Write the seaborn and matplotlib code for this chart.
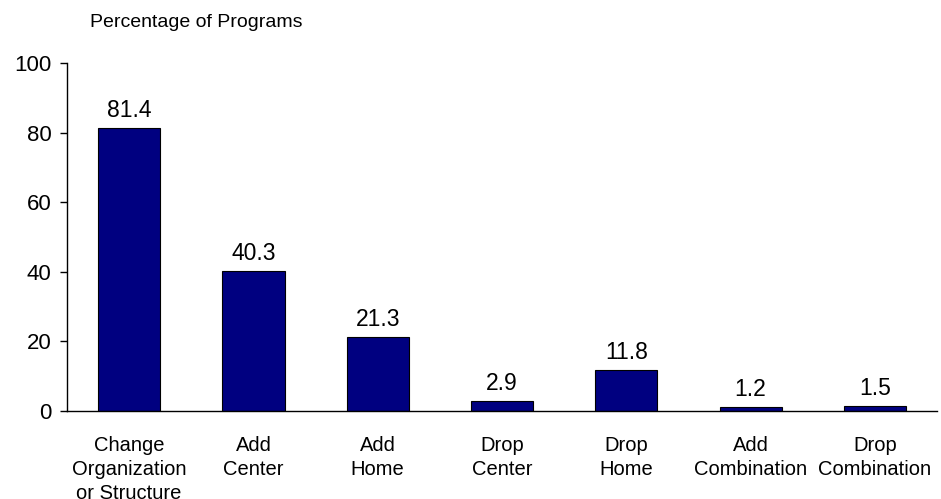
import numpy as np
import pandas as pd
import matplotlib
matplotlib.use("Agg")
import matplotlib.pyplot as plt
import seaborn as sns

categories = ["Change\nOrganization\nor Structure", "Add\nCenter", "Add\nHome",
              "Drop\nCenter", "Drop\nHome", "Add\nCombination", "Drop\nCombination"]
values = [81.4, 40.3, 21.3, 2.9, 11.8, 1.2, 1.5]
labels = ["81.4", "40.3", "21.3", "2.9", "11.8", "1.2", "1.5"]

sns.set_theme(style="white")
plt.rcParams['font.family'] = ['Liberation Sans', 'DejaVu Sans']
plt.rcParams['text.color'] = 'black'

df = pd.DataFrame({"category": categories, "value": values})

fig = plt.figure(figsize=(9.41, 4.99), dpi=100)
ax = fig.add_axes([0.0712, 0.1764, 0.9246, 0.6973])
sns.barplot(data=df, x="category", y="value", color="#000080", saturation=1,
            edgecolor="black", linewidth=0.8, width=0.5, ax=ax)

for i, (v, t) in enumerate(zip(values, labels)):
    ax.text(i, v + 3, t, ha="center", va="baseline", fontsize=16.5, color="black")

ax.set_xlim(-0.5, len(categories) - 0.5)
ax.set_ylim(0, 100)
ax.set_yticks(np.arange(0, 101, 20))
ax.set_xlabel("")
ax.set_ylabel("")
ax.set_xticks(np.arange(-0.5, len(categories), 1), minor=True)
ax.tick_params(axis="x", which="major", length=0, labelsize=14.5, pad=18, labelcolor="black")
ax.tick_params(axis="x", which="minor", length=5, width=1, color="black", direction="out")
ax.tick_params(axis="y", length=5, width=1, color="black", direction="out", labelsize=16,
               left=True, labelcolor="black", pad=6)
ax.spines["top"].set_visible(False)
ax.spines["right"].set_visible(False)
for s in ["left", "bottom"]:
    ax.spines[s].set_color("black")
    ax.spines[s].set_linewidth(1)
for lbl in ax.get_xticklabels():
    lbl.set_linespacing(1.32)

fig.text(0.0956, 0.955, "Percentage of Programs", fontsize=14, ha="left", va="center",
         color="black")

plt.savefig("out.png", dpi=100)
